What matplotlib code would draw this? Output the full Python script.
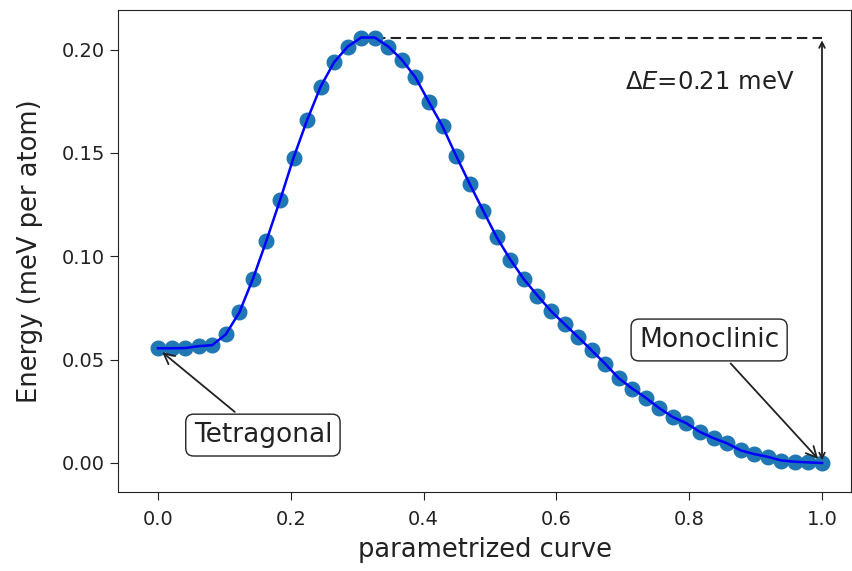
import numpy as np
import matplotlib
matplotlib.use("Agg")
import matplotlib.pyplot as plt

# Data (50 images along the path)
energy = [0.0555, 0.0555, 0.0556, 0.0565, 0.0570, 0.0622, 0.0728, 0.0890, 0.1075, 0.1270,
          0.1476, 0.1658, 0.1820, 0.1939, 0.2014, 0.2058, 0.2058, 0.2014, 0.1950, 0.1865,
          0.1745, 0.1628, 0.1486, 0.1350, 0.1220, 0.1091, 0.0984, 0.0889, 0.0810, 0.0735,
          0.0672, 0.0609, 0.0545, 0.0480, 0.0410, 0.0360, 0.0315, 0.0265, 0.0222, 0.0192,
          0.0150, 0.0120, 0.0095, 0.0061, 0.0043, 0.0030, 0.0012, 0.0006, 0.0003, 0.0000]
path = np.linspace(0, 1, len(energy))
xticks = [0.0, 0.2, 0.4, 0.6, 0.8, 1.0]
yticks = [0.00, 0.05, 0.10, 0.15, 0.20]
barrier_label = r"$\Delta E$=0.21 meV"
start_label = "Tetragonal"
end_label = "Monoclinic"

fig = plt.figure(figsize=(8.53, 5.71), dpi=100)
ax = fig.add_axes([118/853, 1-492/571, (851-118)/853, (492-10)/571])

ax.scatter(path, energy, s=110, color="#1f77b4", zorder=2)
ax.plot(path, energy, color="blue", lw=1.8, zorder=3)

emax = max(energy)
imax = int(np.argmax(energy))
ax.plot([path[imax+1], path[-1]], [emax, emax], color="#222222", ls=(0, (5, 2.5)), lw=1.5, zorder=1)
ax.annotate("", xy=(path[-1], energy[-1]), xytext=(path[-1], emax),
            arrowprops=dict(arrowstyle="<->", color="#222222", lw=1.3))
ax.text(0.703, 0.181, barrier_label, fontsize=17.5, color="#222222")

bbox = dict(boxstyle="round", fc="white", ec="#222222")
ax.annotate(start_label, xy=(path[0] + 0.003, energy[0] - 0.001), xytext=(0.158, 0.0135),
            ha="center", va="center", fontsize=19, bbox=bbox, color="#222222",
            arrowprops=dict(arrowstyle="->", color="#222222", lw=1.3))
ax.annotate(end_label, xy=(path[-1] - 0.003, energy[-1] + 0.001), xytext=(0.830, 0.0595),
            ha="center", va="center", fontsize=19, bbox=bbox, color="#222222",
            arrowprops=dict(arrowstyle="->", color="#222222", lw=1.3))

x0 = 158; x1 = 822
ax.set_xlim(-(x0-118)/(x1-x0), 1 + (851-x1)/(x1-x0))
py0 = 463; py20 = 49.5
k = (py0 - py20) / 0.2
ax.set_ylim(-(492-py0)/k, 0.2 + (py20-10)/k)
ax.set_xticks(xticks)
ax.set_yticks(yticks)
ax.set_xticklabels([f"{v:.1f}" for v in xticks])
ax.set_yticklabels([f"{v:.2f}" for v in yticks])
ax.tick_params(labelsize=14, length=6, colors="#222222")
ax.tick_params(axis="x", pad=7)
ax.set_xlabel("parametrized curve", fontsize=18.5, color="#222222", labelpad=6)
ax.set_ylabel("Energy (meV per atom)", fontsize=18.5, color="#222222", labelpad=13)
for s in ax.spines.values():
    s.set_color("#222222")

fig.savefig("out.png", dpi=100)
